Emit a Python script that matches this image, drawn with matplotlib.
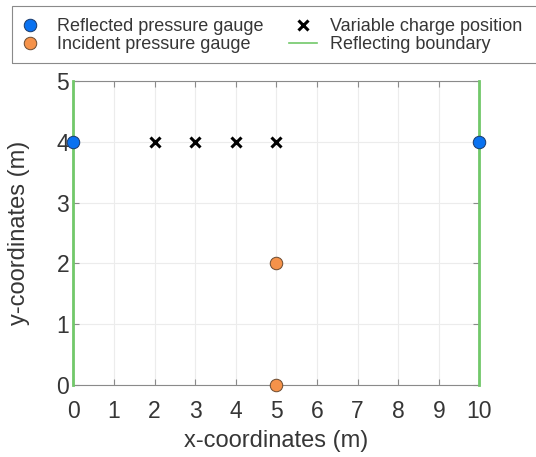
import matplotlib
matplotlib.use("Agg")
import matplotlib.pyplot as plt
from matplotlib.lines import Line2D
from matplotlib.patches import Rectangle

plt.rcParams['font.family'] = ['Liberation Sans', 'DejaVu Sans']

# Gauge and charge coordinates (m)
reflected_x = [0, 10]
reflected_y = [4, 4]
incident_x = [5, 5]
incident_y = [2, 0]
charge_x = [2, 3, 4, 5]
charge_y = [4, 4, 4, 4]
boundary_left_x = [0, 0]
boundary_right_x = [10, 10]
boundary_y = [0, 5]

x_ticks = list(range(0, 11))
y_ticks = list(range(0, 6))

text_col = '#363636'
blue = '#0a72f0'
orange = '#f5924a'
green = '#72c86a'

W, H = 536, 457
fig = plt.figure(figsize=(W / 100, H / 100), dpi=100)
ax = fig.add_axes([0.137, 0.1575, 0.7575, 0.665])

ax.plot(boundary_left_x, boundary_y, color=green, lw=2, zorder=3, clip_on=False)
ax.plot(boundary_right_x, boundary_y, color=green, lw=2, zorder=3, clip_on=False)
ax.plot(charge_x, charge_y, ls='none', marker='x', ms=6.5, mew=2.2,
        color='black', zorder=4)
ax.plot(reflected_x, reflected_y, ls='none', marker='o', ms=9,
        mfc=blue, mec='#1a3a6a', mew=0.7, zorder=5, clip_on=False)
ax.plot(incident_x, incident_y, ls='none', marker='o', ms=9,
        mfc=orange, mec='#6a4a30', mew=0.7, zorder=5, clip_on=False)

ax.set_xlim(0, 10)
ax.set_ylim(0, 5)
ax.set_xticks(x_ticks)
ax.set_yticks(y_ticks)
ax.grid(True, color='#ececec', lw=0.8)
ax.set_axisbelow(True)
for s in ax.spines.values():
    s.set_color('#8a8a8a')
    s.set_linewidth(0.8)
ax.tick_params(direction='in', length=4, width=0.8, color='#8a8a8a',
               labelsize=16.5, labelcolor=text_col, top=True, right=True)
ax.tick_params(axis='x', pad=11)
ax.tick_params(axis='y', pad=3)
ax.set_xlabel('x-coordinates (m)', fontsize=17, color=text_col, labelpad=5)
ax.set_ylabel('y-coordinates (m)', fontsize=17, color=text_col, labelpad=19)

# Legend box (frame drawn separately so it can run off the right edge)
fig.patches.append(Rectangle((12 / W, 1 - 63 / H), 530 / W, 57 / H,
                             transform=fig.transFigure, fill=False,
                             edgecolor='#8a8a8a', lw=0.8))

handles = [
    Line2D([], [], ls='none', marker='o', ms=9, mfc=blue, mec='#1a3a6a', mew=0.7),
    Line2D([], [], ls='none', marker='o', ms=9, mfc=orange, mec='#6a4a30', mew=0.7),
    Line2D([], [], ls='none', marker='x', ms=6.5, mew=2.2, color='black'),
    Line2D([], [], color=green, lw=1.2),
]
labels = ['Reflected pressure gauge', 'Incident pressure gauge',
          'Variable charge position', 'Reflecting boundary']
leg = fig.legend(handles, labels, ncol=2, loc='upper left',
                 bbox_to_anchor=(16 / W, 1 - 18 / H),
                 fontsize=13, frameon=False, borderpad=0, borderaxespad=0,
                 handlelength=1.55, handletextpad=0.72, columnspacing=1.4,
                 labelspacing=0.05, labelcolor=text_col)

fig.savefig('out.png', dpi=100)
